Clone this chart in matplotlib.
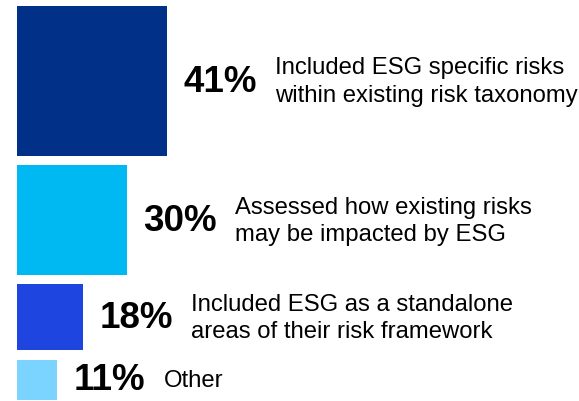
import matplotlib
matplotlib.use("Agg")
import matplotlib.pyplot as plt

plt.rcParams['font.family'] = ['Liberation Sans', 'DejaVu Sans']

# Share of firms by approach to ESG risk
shares = [41, 30, 18, 11]
labels = [
    "Included ESG specific risks\nwithin existing risk taxonomy",
    "Assessed how existing risks\nmay be impacted by ESG",
    "Included ESG as a standalone\nareas of their risk framework",
    "Other",
]
colors = ["#003087", "#00B9F2", "#1F45E0", "#7AD4FF"]

px_per_pct = 150 / 41   # square side in pixels for each percent
left = 17
top = 7
gap = 9.3

fig = plt.figure(figsize=(5.79, 4.02), dpi=100)
ax = fig.add_axes([0, 0, 1, 1])
ax.set_xlim(0, 579)
ax.set_ylim(402, 0)
ax.axis("off")

y = top
for share, label, color in zip(shares, labels, colors):
    side = share * px_per_pct
    ax.bar(left, side, width=side, bottom=y, align="edge", color=color, linewidth=0)
    pct = ax.text(left + side + 16.5, y + side / 2, f"{share}%", fontsize=26.5,
                  fontweight="bold", va="center", ha="left", color="black")
    ax.annotate(label, xy=(1, 0.5), xycoords=pct, xytext=(13, 0),
                textcoords="offset points", va="center", ha="left",
                fontsize=17.2, color="black", linespacing=1.3)
    y += side + gap

fig.savefig("out.png", dpi=100)
